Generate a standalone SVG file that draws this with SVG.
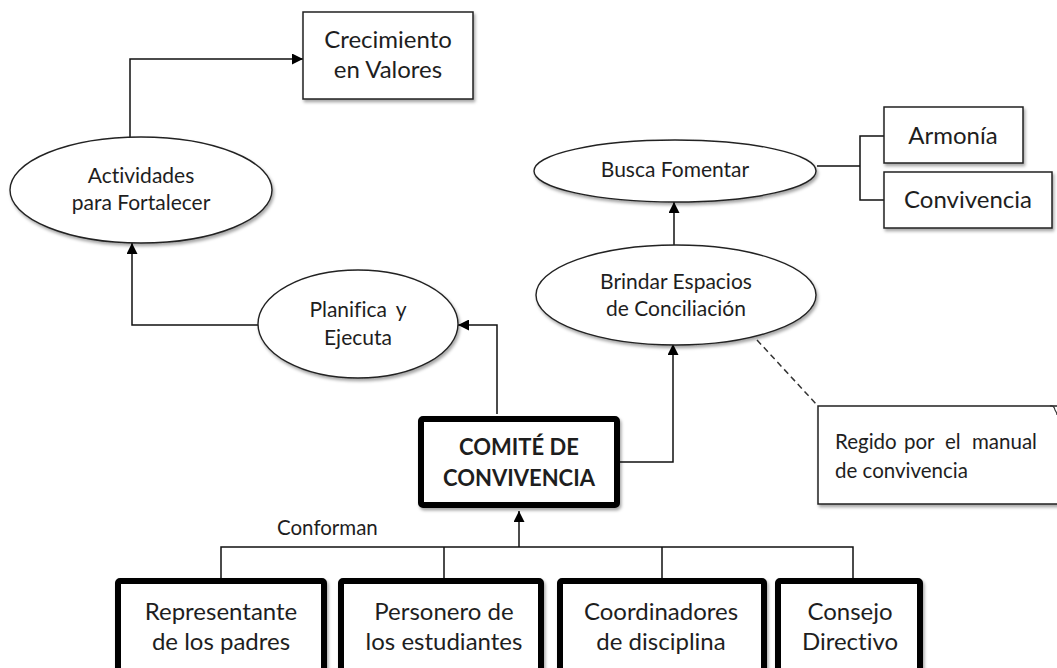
<svg xmlns="http://www.w3.org/2000/svg" width="1057" height="668" viewBox="0 0 1057 668">
<style>
  text { font-family: Lato, "Noto Sans", "Liberation Sans", sans-serif; fill: #1e1e1e; text-anchor: middle; font-variant-ligatures: none; font-feature-settings: "liga" 0, "clig" 0; }
  .box { fill: #fff; stroke: #222; stroke-width: 1.5; filter: url(#sh); }
  .thick { fill: #fff; stroke: #000; stroke-width: 6; stroke-linejoin: round; filter: url(#sh); }
  .ell { fill: #fff; stroke: #222; stroke-width: 1.4; filter: url(#sh); }
  .big { font-size: 24px; }
  .mid { font-size: 21px; }
  .con { fill: none; stroke: #111; stroke-width: 1.5; }
  .arr { marker-end: url(#ah); }
</style>
<defs>
  <filter id="sh" x="-10%" y="-10%" width="125%" height="130%">
    <feDropShadow dx="1.5" dy="2.5" stdDeviation="1.8" flood-color="#000" flood-opacity="0.35"/>
  </filter>
  <marker id="ah" viewBox="0 0 10 10" refX="10" refY="5" markerWidth="11" markerHeight="11" markerUnits="userSpaceOnUse" orient="auto">
    <path d="M0,0 L10,5 L0,10 Z" fill="#000"/>
  </marker>
</defs>
<rect width="1057" height="668" fill="#fff"/>

<g id="connectors">
  <path class="con arr" d="M130,137 V59 H303"/>
  <path class="con arr" d="M258,325 H132 V243"/>
  <path class="con arr" d="M497,414 V325 H458"/>
  <path class="con arr" d="M620,462 H673 V344"/>
  <path class="con arr" d="M674,245 V202"/>
  <path class="con" d="M817,166 H860 M884,136 H860 V200 H884"/>
  <path class="con" d="M221,578 V547 H853 V578 M444,547 V578 M662,547 V578"/>
  <path class="con arr" d="M519,547 V511"/>
  <path d="M757,340 L818,406" fill="none" stroke="#333" stroke-width="1.5" stroke-dasharray="6,4"/>
  <text x="277" y="535" style="text-anchor:start;font-size:20.5px">Conforman</text>
</g>

<g id="crecimiento">
  <rect class="box" x="303" y="12" width="170" height="87"/>
  <text x="388" y="48" class="big">Crecimiento</text>
  <text x="388" y="78" class="big">en Valores</text>
</g>

<g id="actividades">
  <ellipse class="ell" cx="141" cy="190" rx="131" ry="53"/>
  <text x="141" y="183" class="mid">Actividades</text>
  <text x="141" y="210" class="mid">para Fortalecer</text>
</g>

<g id="planifica">
  <ellipse class="ell" cx="358" cy="324" rx="100" ry="54"/>
  <text x="358" y="317" class="mid" style="word-spacing:4px">Planifica y</text>
  <text x="358" y="345" class="mid">Ejecuta</text>
</g>

<g id="busca">
  <ellipse class="ell" cx="675" cy="171" rx="141" ry="31"/>
  <text x="675" y="177" class="mid">Busca Fomentar</text>
</g>

<g id="armonia">
  <rect class="box" x="884" y="107" width="139" height="56"/>
  <text x="953" y="144" class="big">Armonía</text>
</g>

<g id="convivencia">
  <rect class="box" x="884" y="172" width="168" height="56"/>
  <text x="968" y="208" class="big">Convivencia</text>
</g>

<g id="brindar">
  <ellipse class="ell" cx="676" cy="295" rx="140" ry="50"/>
  <text x="676" y="289" class="mid">Brindar Espacios</text>
  <text x="676" y="316" class="mid">de Conciliación</text>
</g>

<g id="nota">
  <rect class="box" x="818" y="406" width="250" height="98"/>
  <path d="M1050,406 Q1054,405 1055,410 Q1057,413 1057,415" fill="none" stroke="#333" stroke-width="1.2"/>
  <text y="449" style="text-anchor:start;font-size:20.5px"><tspan x="835">Regido</tspan><tspan x="904">por</tspan><tspan x="945">el</tspan><tspan x="972">manual</tspan></text>
  <text x="835" y="478" style="text-anchor:start;font-size:20.5px">de convivencia</text>
</g>

<g id="comite">
  <rect class="thick" x="421" y="419" width="196" height="86" rx="2"/>
  <text x="519" y="455" style="font-weight:bold;font-size:22px">COMITÉ DE</text>
  <text x="519" y="486" style="font-weight:bold;font-size:22px">CONVIVENCIA</text>
</g>

<g id="representante">
  <rect class="thick" x="118" y="581" width="206" height="100" rx="2"/>
  <text x="221" y="620" class="big">Representante</text>
  <text x="221" y="650" class="big">de los padres</text>
</g>

<g id="personero">
  <rect class="thick" x="341" y="581" width="200" height="100" rx="2"/>
  <text x="444" y="620" class="big">Personero de</text>
  <text x="444" y="650" class="big">los estudiantes</text>
</g>

<g id="coordinadores">
  <rect class="thick" x="560" y="581" width="204" height="100" rx="2"/>
  <text x="661" y="620" class="big">Coordinadores</text>
  <text x="661" y="650" class="big">de disciplina</text>
</g>

<g id="consejo">
  <rect class="thick" x="778" y="581" width="142" height="100" rx="2"/>
  <text x="850" y="620" class="big">Consejo</text>
  <text x="850" y="650" class="big">Directivo</text>
</g>
</svg>
